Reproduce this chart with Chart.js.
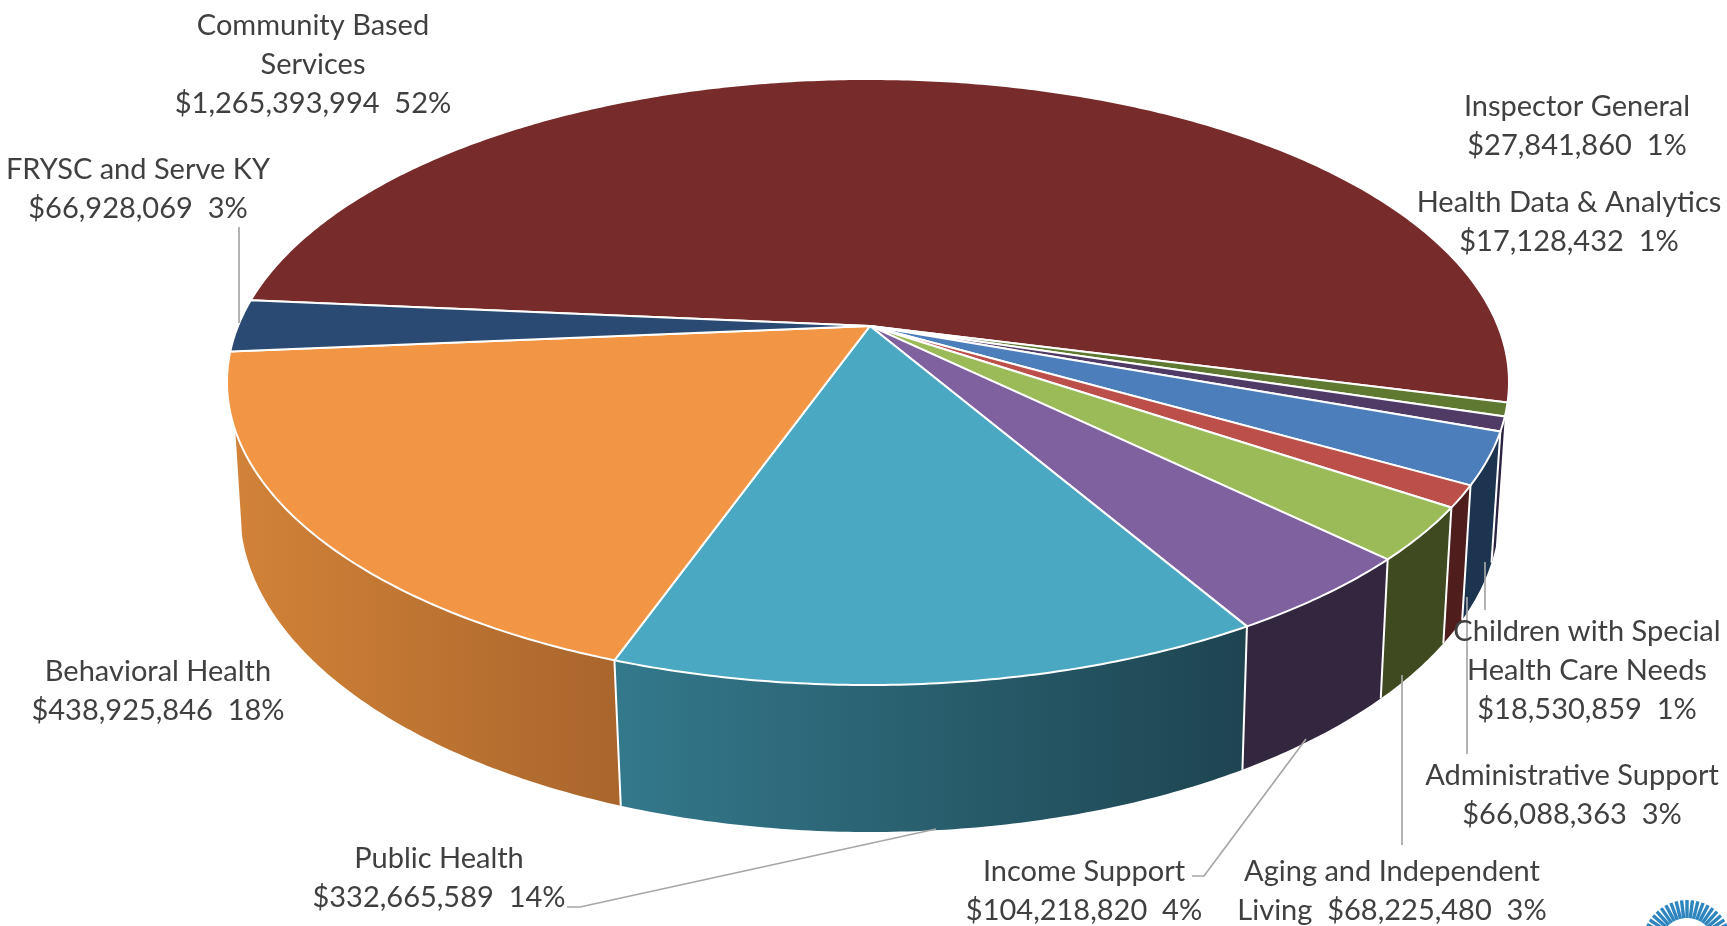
<!DOCTYPE html>
<html>
<head>
<meta charset="utf-8">
<title>Budget by department</title>
<script src="https://cdn.jsdelivr.net/npm/chart.js@4"></script>
<style>
  html, body { margin: 0; padding: 0; background: #fff; overflow: hidden; }
  #wrap { width: 1727px; height: 926px; position: relative; }
</style>
</head>
<body>
<div id="wrap"><canvas id="pie"></canvas></div>
<script>
const categories = ['Community Based Services', 'Health Data & Analytics', 'Children with Special Health Care Needs',
  'Administrative Support', 'Inspector General', 'Aging and Independent Living', 'Income Support', 'Public Health',
  'Behavioral Health', 'FRYSC and Serve KY'];
const amounts = [1265393994, 17128432, 18530859, 66088363, 27841860, 68225480, 104218820, 332665589, 438925846, 66928069];
const percents = ['52%', '1%', '1%', '3%', '1%', '3%', '4%', '14%', '18%', '3%'];

const topColors = ['#772b2a', '#5f7a30', '#4f3b66', '#4c7ebb', '#bd4f4b', '#9bbb59', '#8061a0', '#4aa8c3', '#f29544', '#2a4a73'];
// wall colours, [left, right] of the gradient. null = wall is at the back and never seen
const wallColors = [null, null, ['#2b2140', '#2b2140'], ['#1c344f', '#1c344f'], ['#4f1d1b', '#4f1d1b'],
  ['#404a20', '#404a20'], ['#33273f', '#33273f'], ['#33798c', '#1e4450'], ['#d38338', '#a9652c'], null];

const money = amounts.map(v => '$' + v.toLocaleString('en-US'));
const labelLines = [
  ['Community Based', 'Services', money[0] + '  ' + percents[0]],
  ['Health Data & Analytics', money[1] + '  ' + percents[1]],
  ['Children with Special', 'Health Care Needs', money[2] + '  ' + percents[2]],
  ['Administrative Support', money[3] + '  ' + percents[3]],
  ['Inspector General', money[4] + '  ' + percents[4]],
  ['Aging and Independent', 'Living  ' + money[5] + '  ' + percents[5]],
  ['Income Support', money[6] + '  ' + percents[6]],
  ['Public Health', money[7] + '  ' + percents[7]],
  ['Behavioral Health', money[8] + '  ' + percents[8]],
  ['FRYSC and Serve KY', money[9] + '  ' + percents[9]]
];
// [centre x, first baseline] of each label
const labelPos = [[313, 35], [1569, 212], [1587, 641], [1572, 785], [1577, 116], [1392, 881], [1084, 881], [439, 868], [158, 681], [138, 179]];
const leaders = [
  [[239, 227], [239, 323]],
  [[1485, 562], [1485, 610]],
  [[1467, 597], [1467, 754]],
  [[1402, 675], [1402, 845]],
  [[1192, 876], [1204, 876], [1306, 739]],
  [[567, 907], [580, 907], [936, 829]]
];

// top face and bottom rim of the disc, apex sits above the ellipse centre because of the perspective
const topRim = { cx: 868, cy: 382, rx: 641, ry: 303 };
const botRim = { cx: 870, cy: 510, rx: 630, ry: 322 };
const apexShift = -0.185;

function onDisc(t) {
  const x = Math.cos(t), y = Math.sin(t);
  const d = 1 + apexShift * y;
  return [x * Math.sqrt(1 - apexShift * apexShift) / d, (y + apexShift) / d];
}
function rimPoint(rim, t) {
  const p = onDisc(t);
  return [rim.cx + rim.rx * p[0], rim.cy + rim.ry * p[1]];
}
function arcPoints(rim, a, b) {
  const pts = [];
  const n = Math.max(2, Math.ceil((b - a) / 0.01));
  for (let i = 0; i <= n; i++) pts.push(rimPoint(rim, a + (b - a) * i / n));
  return pts;
}

const disc3d = {
  id: 'disc3d',
  beforeDatasetDraw(chart) {
    const ctx = chart.ctx;
    const arcs = chart.getDatasetMeta(0).data;
    ctx.save();
    ctx.lineJoin = 'round';

    // walls first
    arcs.forEach((arc, i) => {
      if (!wallColors[i]) return;
      const a = arcPoints(topRim, arc.startAngle, arc.endAngle);
      // the left side stops at the silhouette, the part behind it is not seen
      const b = arcPoints(botRim, arc.startAngle, arc.endAngle).filter(p => p[1] >= botRim.cy + 23);
      const xs = a.concat(b).map(p => p[0]);
      const grad = ctx.createLinearGradient(Math.min(...xs), 0, Math.max(...xs), 0);
      grad.addColorStop(0, wallColors[i][0]);
      grad.addColorStop(1, wallColors[i][1]);
      ctx.beginPath();
      a.forEach((p, k) => k ? ctx.lineTo(p[0], p[1]) : ctx.moveTo(p[0], p[1]));
      b.reverse().forEach(p => ctx.lineTo(p[0], p[1]));
      ctx.closePath();
      ctx.fillStyle = grad;
      ctx.fill();
    });
    ctx.strokeStyle = '#ffffff';
    ctx.lineWidth = 2;
    arcs.forEach((arc, i) => {
      if (!wallColors[i] || !wallColors[i - 1]) return;
      const p = rimPoint(topRim, arc.startAngle);
      const q = rimPoint(botRim, arc.startAngle);
      ctx.beginPath();
      ctx.moveTo(p[0], p[1]);
      ctx.lineTo(q[0], q[1]);
      ctx.stroke();
    });

    // top face
    const ax = topRim.cx + 2;
    const ay = topRim.cy + topRim.ry * apexShift;
    arcs.forEach((arc, i) => {
      ctx.beginPath();
      ctx.moveTo(ax, ay);
      arcPoints(topRim, arc.startAngle, arc.endAngle).forEach(p => ctx.lineTo(p[0], p[1]));
      ctx.closePath();
      ctx.fillStyle = topColors[i];
      ctx.fill();
      ctx.stroke();
    });
    ctx.restore();
    return false;
  },
  afterDraw(chart) {
    const ctx = chart.ctx;
    ctx.save();

    ctx.strokeStyle = '#a6a6a6';
    ctx.lineWidth = 1.7;
    leaders.forEach(line => {
      ctx.beginPath();
      line.forEach((p, k) => k ? ctx.lineTo(p[0], p[1]) : ctx.moveTo(p[0], p[1]));
      ctx.stroke();
    });

    ctx.font = '29px Lato';
    ctx.fillStyle = '#404040';
    ctx.textAlign = 'center';
    labelLines.forEach((lines, i) => {
      lines.forEach((txt, k) => ctx.fillText(txt, labelPos[i][0], labelPos[i][1] + k * 39));
    });

    // bit of the logo cut off in the corner
    ctx.strokeStyle = '#2f86bf';
    ctx.lineWidth = 3.4;
    for (let d = -77; d <= 77; d += 7) {
      const t = (d - 90) * Math.PI / 180;
      ctx.beginPath();
      ctx.moveTo(1687 + 27 * Math.cos(t), 945 + 27 * Math.sin(t));
      ctx.lineTo(1687 + 45 * Math.cos(t), 945 + 45 * Math.sin(t));
      ctx.stroke();
    }
    ctx.restore();
  }
};

new Chart(document.getElementById('pie'), {
  type: 'pie',
  data: {
    labels: categories,
    datasets: [{ data: amounts, backgroundColor: topColors, borderColor: '#ffffff' }]
  },
  options: {
    responsive: true,
    maintainAspectRatio: false,
    animation: false,
    rotation: -84.9,
    plugins: { legend: { display: false }, tooltip: { enabled: false } }
  },
  plugins: [disc3d]
});
</script>
</body>
</html>
